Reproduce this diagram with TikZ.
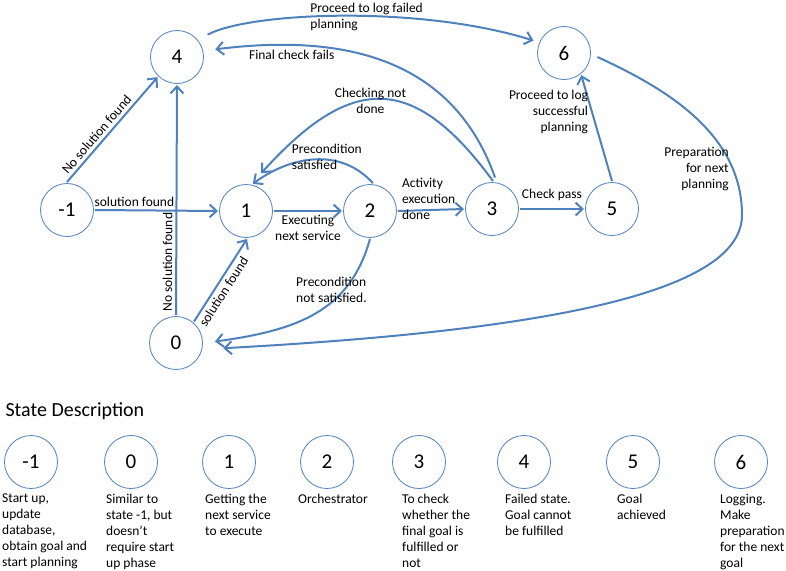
\documentclass[tikz,border=0pt]{standalone}
\usepackage{fontspec}
\setmainfont{Carlito}
\usepackage{tikz}
\usetikzlibrary{arrows.meta,positioning}
\definecolor{stblue}{RGB}{79,129,189}
\newcommand{\lblfont}{\fontsize{13.5}{16}\selectfont}
\newcommand{\numfont}{\fontsize{21}{25}\selectfont}
\tikzstyle{state} = [circle, draw=stblue, line width=0.8pt, fill=white, minimum size=53pt, inner sep=0pt, outer sep=1.5pt, font=\numfont]
\tikzstyle{arrow} = [line width=2pt, -{Straight Barb[length=7pt,width=13pt]}, color=stblue]
\tikzstyle{lbl} = [font=\lblfont, text=black, inner sep=3pt]
\tikzstyle{desc} = [font=\lblfont, align=left, anchor=north west, inner sep=0pt]

\begin{document}
\begin{tikzpicture}[x=1pt, y=-1pt]
\useasboundingbox (0,0) rectangle (786,570);
% States
\node[state] (sm1) at (67,210) {-1};
\node[state] (s0) at (176,343) {0};
\node[state] (s1) at (246,211) {1};
\node[state] (s2) at (370,211) {2};
\node[state] (s3) at (492,209) {3};
\node[state] (s4) at (177,57) {4};
\node[state] (s5) at (612,209) {5};
\node[state] (s6) at (564,53) {6};

% Straight transitions
\draw[arrow] (sm1.north) -- node[lbl, pos=0.4, sloped, above] {No solution found} (s4.226);
\draw[arrow] (sm1.east) -- node[lbl, pos=0.32, above] {solution found} (s1.west);
\draw[arrow] (s0.north) -- node[lbl, pos=0.23, sloped, above] {No solution found} (s4.south);
\draw[arrow] (s0.50) -- node[lbl, pos=0.42, sloped, below] {solution found} (s1.272);
\draw[arrow] (s1.east) -- node[lbl, below, align=center] {Executing\\next service} (s2.west);
\draw[arrow] (s2.east) -- node[lbl, pos=0, anchor=west, align=left, yshift=12pt] {Activity\\execution\\done} (s3.west);
\draw[arrow] (s3.east) -- node[lbl, above, yshift=4pt] {Check pass} (s5.west);
\draw[arrow] (s5.north) -- node[lbl, pos=0.65, anchor=east, align=right] {Proceed to log\\successful\\planning} (s6.-52);

% Curved transitions
\draw[arrow] (s2.84) .. controls (340,147) and (291,156) .. node[lbl, align=left, xshift=12pt, yshift=3pt] {Precondition\\satisfied} (s1.76);
\draw[arrow, shorten >=14pt] (s3.88) .. controls (413,72) and (351,74) .. node[lbl, pos=0.54, align=center] {Checking not\\done} (s1.78);
\draw[arrow, shorten <=4pt, shorten >=11pt] (s3.81) .. controls (450,50) and (330,35) .. node[lbl, pos=0.78, below, xshift=6pt] {Final check fails} (s4.13);
\draw[arrow, shorten <=10pt, shorten >=5pt] (s4.39) .. controls (250,12) and (420,5) .. node[lbl, pos=0.56, align=left] {Proceed to log failed\\planning} (s6.157);
\draw[arrow, shorten >=11pt] (s2.south) .. controls (350,310) and (300,330) .. node[lbl, pos=0.3, align=left, xshift=-12pt] {Precondition\\not satisfied.} (s0.east);
\coordinate (turn) at (742,215);
\draw[arrow, shorten <=6pt, shorten >=20pt] (s6.-3) .. controls (658,85) and (742,130) .. node[lbl, pos=0.8, anchor=east, align=right] {Preparation\\for next\\planning} (turn) .. controls (742,290) and (560,330) .. (s0.-13);

% Legend
\node[font=\fontsize{20}{24}\selectfont, anchor=west] (title) at (2,411) {State Description};
\node[state] (km1) at (31,462) {-1};
\node[state] (k0) at (131,462) {0};
\node[state] (k1) at (229,462) {1};
\node[state] (k2) at (327,462) {2};
\node[state] (k3) at (419,462) {3};
\node[state] (k4) at (524,462) {4};
\node[state] (k5) at (633,462) {5};
\node[state] (k6) at (741,462) {6};
\node[desc] (dm1) at (2,494) {Start up,\\update\\database,\\obtain goal and\\start planning};
\node[desc] (d0) at (106,494) {Similar to\\state -1, but\\doesn’t\\require start\\up phase};
\node[desc] (d1) at (205,494) {Getting the\\next service\\to execute};
\node[desc] (d2) at (298,494) {Orchestrator};
\node[desc] (d3) at (402,494) {To check\\whether the\\final goal is\\fulfilled or\\not};
\node[desc] (d4) at (505,494) {Failed state.\\Goal cannot\\be fulfilled};
\node[desc] (d5) at (617,494) {Goal\\achieved};
\node[desc] (d6) at (720,494) {Logging.\\Make\\preparation\\for the next\\goal};
\end{tikzpicture}
\end{document}
